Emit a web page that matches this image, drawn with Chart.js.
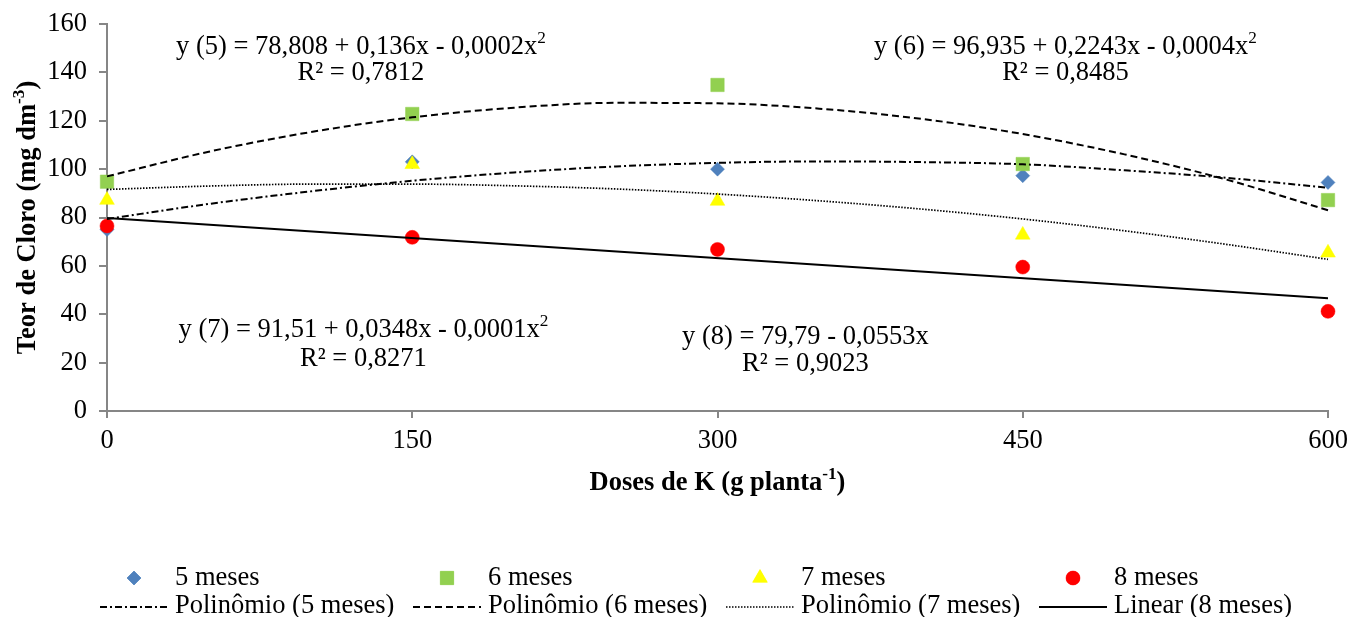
<!DOCTYPE html>
<html>
<head>
<meta charset="utf-8">
<script src="https://cdn.jsdelivr.net/npm/chart.js@4/dist/chart.umd.min.js"></script>
<style>
  html, body { margin: 0; padding: 0; background: #ffffff; }
  #wrap { width: 1351px; height: 617px; }
</style>
</head>
<body>
<div id="wrap"><canvas id="c" width="1351" height="617"></canvas></div>
<script>
// ---------- DATA ----------
const doses = [0, 150, 300, 450, 600];
const meses5 = [75.0, 103.0, 100.0, 97.3, 94.5];
const meses6 = [94.8, 122.8, 134.8, 102.1, 87.2];
const meses7 = [87.2, 102.0, 86.8, 72.8, 65.4];
const meses8 = [76.5, 71.8, 66.8, 59.5, 41.2];

// trend lines
const trendX = [0, 50, 100, 150, 200, 250, 300, 350, 400, 450, 500, 550, 600];
const poli5 = [79.4, 85.6, 90.8, 95.2, 98.6, 101.1, 102.6, 103.2, 102.9, 102.0, 99.5, 96.4, 92.3];
const poli6 = [97.0, 107.2, 115.3, 121.4, 125.4, 127.4, 127.2, 125.0, 120.8, 114.5, 106.1, 95.7, 83.0];
const poli7 = [91.6, 93.0, 93.8, 93.8, 93.1, 91.8, 89.7, 86.9, 83.5, 79.4, 74.5, 68.9, 62.7];
const linX = [0, 600];
const lin8 = [79.8, 46.6];

const xTicks = [0, 150, 300, 450, 600];
const yTicks = [0, 20, 40, 60, 80, 100, 120, 140, 160];

const seriesNames = ['5 meses', '6 meses', '7 meses', '8 meses'];
const trendNames = ['Polinômio (5 meses)', 'Polinômio (6 meses)', 'Polinômio (7 meses)', 'Linear (8 meses)'];

const equations = [
  { l1: [{t: 'y (5) = 78,808 + 0,136x - 0,0002x'}, {t: '2', sup: true}], l2: 'R² = 0,7812' },
  { l1: [{t: 'y (6) = 96,935 + 0,2243x - 0,0004x'}, {t: '2', sup: true}], l2: 'R² = 0,8485' },
  { l1: [{t: 'y (7) = 91,51 + 0,0348x - 0,0001x'}, {t: '2', sup: true}], l2: 'R² = 0,8271' },
  { l1: [{t: 'y (8) = 79,79 - 0,0553x'}], l2: 'R² = 0,9023' }
];

// ---------- STYLE ----------
const FONT = "'Liberation Serif', 'Times New Roman', serif";
const FS = 26.5;
const AXIS = '#868686';
const pointStyles = [
  { style: 'rectRot', color: '#4F81BD', r: 7 },
  { style: 'rect', color: '#92D050', r: 9.5 },
  { style: 'triangle', color: '#FFFF00', r: 8.5 },
  { style: 'circle', color: '#FF0000', r: 7 }
];
const dashes = [[7, 3, 2, 3], [7, 4], [1.5, 1.5], []];
const lineWidths = [2, 2, 1.7, 2];
// annotation anchors as fractions of chart area (cx, line1 y, line2 y)
const eqPos = [
  [0.208, 0.059, 0.127],
  [0.785, 0.059, 0.127],
  [0.210, 0.792, 0.866],
  [0.572, 0.810, 0.879]
];

function pts(xs, ys) { return xs.map((x, i) => ({ x: x, y: ys[i] })); }

function drawParts(ctx, parts, x, y, align, size, bold) {
  const w = bold ? 'bold ' : '';
  let total = 0;
  const widths = parts.map(p => {
    const s = p.sup ? size * 0.65 : size;
    ctx.font = w + s + 'px ' + FONT;
    const m = ctx.measureText(p.t).width;
    total += m;
    return m;
  });
  let cx = align === 'center' ? x - total / 2 : (align === 'right' ? x - total : x);
  ctx.textAlign = 'left';
  ctx.textBaseline = 'middle';
  parts.forEach((p, i) => {
    const s = p.sup ? size * 0.65 : size;
    ctx.font = w + s + 'px ' + FONT;
    ctx.fillText(p.t, cx, p.sup ? y - size * 0.33 : y);
    cx += widths[i];
  });
}

function marker(ctx, ps, x, y) {
  ctx.save();
  ctx.fillStyle = ps.color;
  ctx.strokeStyle = ps.color;
  ctx.lineWidth = 0.5;
  Chart.helpers.drawPoint(ctx, { pointStyle: ps.style, rotation: 0, radius: ps.r, borderWidth: 0.5 }, x, y);
  ctx.fill();
  ctx.restore();
}

const decor = {
  id: 'decor',
  afterDraw(chart) {
    const ctx = chart.ctx;
    const a = chart.chartArea;
    ctx.save();
    ctx.fillStyle = '#000';
    // axis titles
    drawParts(ctx, [{t: 'Doses de K (g planta'}, {t: '-1', sup: true}, {t: ')'}], (a.left + a.right) / 2, 483, 'center', FS, true);
    ctx.save();
    ctx.translate(28, (a.top + a.bottom) / 2);
    ctx.rotate(-Math.PI / 2);
    drawParts(ctx, [{t: 'Teor de Cloro (mg dm'}, {t: '-3', sup: true}, {t: ')'}], 0, 0, 'center', FS, true);
    ctx.restore();
    // equations
    equations.forEach((eq, i) => {
      const p = eqPos[i];
      const cx = a.left + p[0] * (a.right - a.left);
      const y1 = a.top + p[1] * (a.bottom - a.top);
      const y2 = a.top + p[2] * (a.bottom - a.top);
      drawParts(ctx, eq.l1, cx, y1, 'center', FS, false);
      drawParts(ctx, [{t: eq.l2}], cx, y2, 'center', FS, false);
    });
    // legend
    const row1 = 578, row2 = 606;
    for (let i = 0; i < 4; i++) {
      const x0 = 100 + i * 313;
      marker(ctx, pointStyles[i], x0 + 34, row1);
      ctx.fillStyle = '#000';
      drawParts(ctx, [{t: seriesNames[i]}], x0 + 75, row1, 'left', FS, false);
      ctx.save();
      ctx.strokeStyle = '#000';
      ctx.lineWidth = lineWidths[i];
      ctx.setLineDash(dashes[i]);
      ctx.beginPath();
      ctx.moveTo(x0, row2 + 1);
      ctx.lineTo(x0 + 68, row2 + 1);
      ctx.stroke();
      ctx.restore();
      drawParts(ctx, [{t: trendNames[i]}], x0 + 75, row2, 'left', FS, false);
    }
    ctx.restore();
  }
};

function scatterSet(label, data, i) {
  const ps = pointStyles[i];
  return {
    type: 'scatter', label: label, data: pts(doses, data),
    pointStyle: ps.style, pointRadius: ps.r, pointHoverRadius: ps.r,
    backgroundColor: ps.color, borderColor: ps.color, borderWidth: 0.5,
    showLine: false, clip: false, order: 10 - i
  };
}
function trendSet(label, xs, ys, i) {
  return {
    type: 'scatter', label: label, data: pts(xs, ys), showLine: true,
    pointRadius: 0, pointHoverRadius: 0, borderColor: '#000', backgroundColor: '#000',
    borderWidth: lineWidths[i], borderDash: dashes[i], cubicInterpolationMode: 'monotone',
    fill: false, clip: false, order: 4 - i
  };
}

new Chart(document.getElementById('c'), {
  type: 'scatter',
  data: {
    datasets: [
      scatterSet(seriesNames[0], meses5, 0),
      scatterSet(seriesNames[1], meses6, 1),
      scatterSet(seriesNames[2], meses7, 2),
      scatterSet(seriesNames[3], meses8, 3),
      trendSet(trendNames[0], trendX, poli5, 0),
      trendSet(trendNames[1], trendX, poli6, 1),
      trendSet(trendNames[2], trendX, poli7, 2),
      trendSet(trendNames[3], linX, lin8, 3)
    ]
  },
  options: {
    responsive: false,
    animation: false,
    devicePixelRatio: 1,
    layout: { padding: { left: 0, right: 23, top: 24, bottom: 146 } },
    plugins: { legend: { display: false }, tooltip: { enabled: false } },
    scales: {
      x: {
        type: 'linear', min: 0, max: 600,
        afterBuildTicks: s => { s.ticks = xTicks.map(v => ({ value: v })); },
        afterFit: s => { s.height = 60; s.paddingLeft = 0; s.paddingRight = 0; },
        grid: { drawOnChartArea: false, color: AXIS, lineWidth: 2, tickLength: 7 },
        border: { color: AXIS, width: 2 },
        ticks: { color: '#000', font: { family: FONT, size: FS }, padding: 7, maxRotation: 0 }
      },
      y: {
        type: 'linear', min: 0, max: 160,
        afterBuildTicks: s => { s.ticks = yTicks.map(v => ({ value: v })); },
        afterFit: s => { s.width = 107; s.paddingTop = 0; s.paddingBottom = 0; },
        grid: { drawOnChartArea: false, color: AXIS, lineWidth: 2, tickLength: 8 },
        border: { color: AXIS, width: 2 },
        ticks: { color: '#000', font: { family: FONT, size: FS }, padding: 12 }
      }
    }
  },
  plugins: [decor]
});
</script>
</body>
</html>
